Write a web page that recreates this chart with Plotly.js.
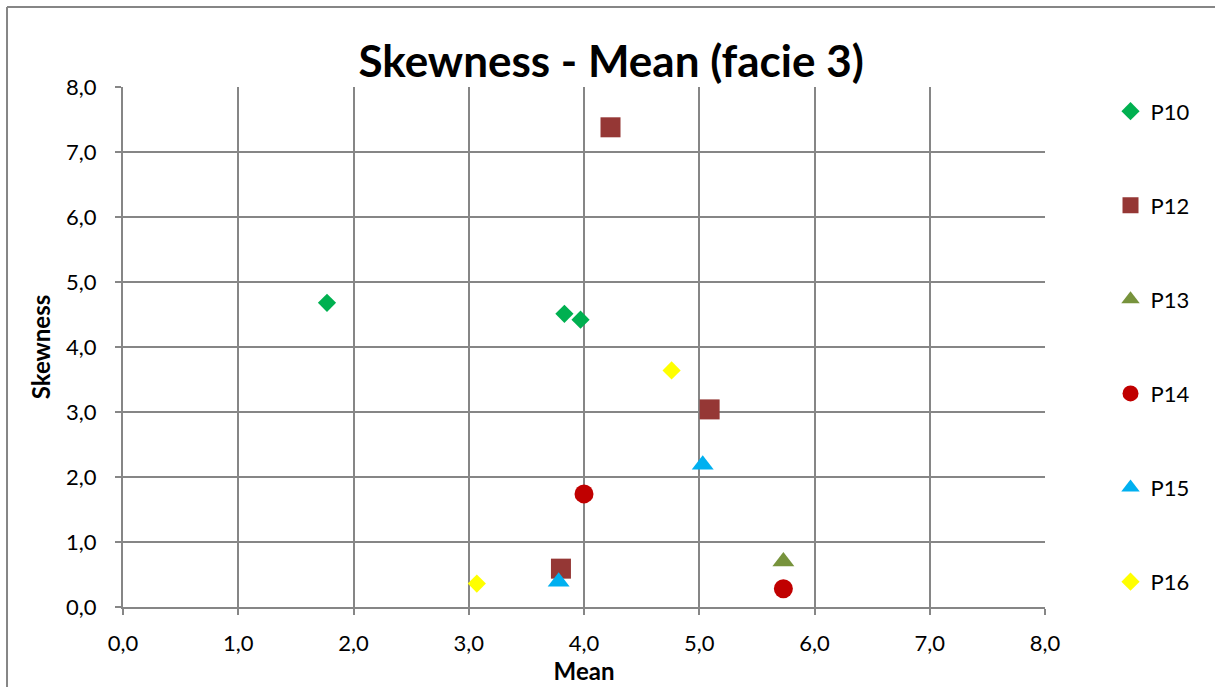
<!DOCTYPE html>
<html>
<head>
<meta charset="utf-8">
<script src="https://cdn.plot.ly/plotly-3.0.1.min.js"></script>
<style>html,body{margin:0;padding:0;background:#fff;}#chart{width:1215px;height:687px;}</style>
</head>
<body>
<div id="chart"></div>
<script>
// Series data (Mean, Skewness)
const seriesNames = ["P10", "P12", "P13", "P14", "P15", "P16"];
const p10Mean = [1.77, 3.83, 3.97];
const p10Skew = [4.68, 4.51, 4.42];
const p12Mean = [4.23, 5.09, 3.80];
const p12Skew = [7.38, 3.04, 0.59];
const p13Mean = [5.73];
const p13Skew = [0.70];
const p14Mean = [4.00, 5.73];
const p14Skew = [1.74, 0.28];
const p15Mean = [5.03, 3.78];
const p15Skew = [2.19, 0.39];
const p16Mean = [4.76, 3.07];
const p16Skew = [3.64, 0.36];
const tickVals = [0, 1, 2, 3, 4, 5, 6, 7, 8];

const font = "Lato, 'Open Sans', sans-serif";
const styles = [
  {symbol: "diamond", color: "#00B050", size: 14},
  {symbol: "square", color: "#953735", size: 20},
  {symbol: "triangle-up", color: "#77933C", size: 19},
  {symbol: "circle", color: "#C00000", size: 19},
  {symbol: "triangle-up", color: "#00B0F0", size: 19},
  {symbol: "diamond", color: "#FFFF00", size: 14}
];
const xs = [p10Mean, p12Mean, p13Mean, p14Mean, p15Mean, p16Mean];
const ys = [p10Skew, p12Skew, p13Skew, p14Skew, p15Skew, p16Skew];

const traces = seriesNames.map((n, i) => ({
  type: "scatter", mode: "markers", name: n, x: xs[i], y: ys[i],
  legendgroup: "g" + i,
  marker: {symbol: styles[i].symbol, color: styles[i].color, size: styles[i].size, line: {width: 0}}
}));

const axisCommon = {
  range: [0, 8], tickvals: tickVals, tickformat: ".1f",
  showgrid: true, gridcolor: "#868686", gridwidth: 2,
  showline: true, linecolor: "#868686", linewidth: 2,
  ticks: "outside", ticklen: 6, tickcolor: "#868686", tickwidth: 2,
  zeroline: false, tickfont: {family: font, size: 22, color: "#000"}
};

const layout = {
  width: 1215, height: 687,
  margin: {l: 123, r: 170, t: 87, b: 80, autoexpand: false},
  paper_bgcolor: "#fff", plot_bgcolor: "#fff",
  separators: ", ",
  showlegend: true,
  title: {text: "<b>Skewness - Mean (facie 3)</b>", font: {family: font, size: 44, color: "#000"},
          x: 0.503, xanchor: "center", y: 0.91, yanchor: "middle"},
  xaxis: Object.assign({}, axisCommon, {
    title: {text: "<b>Mean</b>", font: {family: font, size: 24, color: "#000"}, standoff: 8},
    ticklabelstandoff: 10
  }),
  yaxis: Object.assign({}, axisCommon, {
    title: {text: "<b>Skewness</b>", font: {family: font, size: 24, color: "#000"}, standoff: 9},
    ticklabelstandoff: 14
  }),
  legend: {
    xref: "container", yref: "container",
    x: 0.914, xanchor: "left", y: 0.8685, yanchor: "top",
    font: {family: font, size: 22, color: "#000"},
    traceorder: "grouped", tracegroupgap: 62.5, itemwidth: 30,
    maxheight: 687,
    bgcolor: "rgba(0,0,0,0)"
  },
  shapes: [
    {type: "line", xref: "paper", yref: "paper", x0: -0.1258, x1: -0.1258, y0: -0.3, y1: 1.154,
     line: {color: "#868686", width: 2}},
    {type: "line", xref: "paper", yref: "paper", x0: -0.1258, x1: 1.3, y0: 1.154, y1: 1.154,
     line: {color: "#868686", width: 2}}
  ]
};

Plotly.newPlot("chart", traces, layout, {displayModeBar: false, staticPlot: true});
</script>
</body>
</html>
